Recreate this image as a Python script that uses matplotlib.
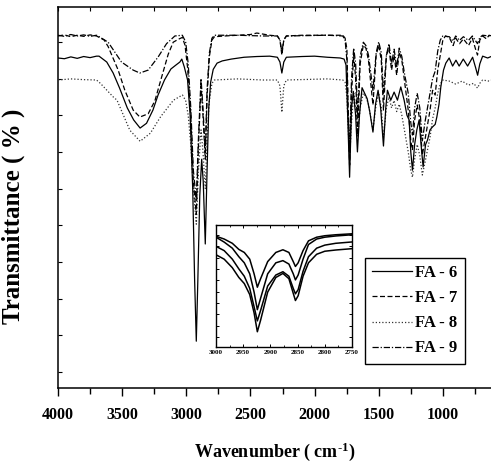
import matplotlib
matplotlib.use('Agg')
import matplotlib.pyplot as plt
import numpy as np
from matplotlib.ticker import MultipleLocator, FixedLocator, NullFormatter

plt.rcParams['font.family'] = ['Liberation Serif', 'DejaVu Serif']
plt.rcParams['font.weight'] = 'bold'
plt.rcParams['mathtext.fontset'] = 'custom'
plt.rcParams['mathtext.rm'] = 'Liberation Serif:bold'
plt.rcParams['mathtext.bf'] = 'Liberation Serif:bold'
plt.rcParams['mathtext.default'] = 'bf'

# ---------------- data (wavenumber cm-1, transmittance) ----------------
fa6 = [(4000,85.6),(3950,85.4),(3900,85.9),(3850,85.5),(3800,86.0),(3750,85.7),(3700,86.1),(3680,86.1),
       (3620,84.5),(3570,81.5),(3520,77.4),(3460,72.0),(3410,68.7),(3360,66.5),(3310,67.8),(3260,71.4),
       (3220,75.5),(3170,79.6),(3120,82.6),(3080,83.7),(3050,84.5),(3035,85.3),(3015,83.1),(2990,79.6),
       (2970,70.0),(2950,50.0),(2935,25.0),(2922,8.4),(2910,25.0),(2895,48.0),(2880,58.0),(2868,52.0),
       (2852,34.9),(2838,55.0),(2825,72.0),(2810,79.0),(2790,82.5),(2760,84.2),(2720,84.8),(2650,85.3),
       (2550,85.8),(2450,86.0),(2350,86.1),(2290,85.8),(2270,84.5),(2255,81.5),(2240,84.5),(2220,85.8),
       (2100,86.0),(2000,86.1),(1900,85.8),(1800,85.6),(1770,85.3),(1755,83.7),(1742,70.0),(1727,53.1),
       (1712,72.0),(1698,76.5),(1680,70.0),(1666,60.0),(1650,70.0),(1630,77.5),(1610,76.0),(1590,74.5),
       (1570,71.0),(1545,65.4),(1525,73.0),(1505,76.8),(1485,72.0),(1463,61.6),(1445,72.0),(1432,76.8),
       (1406,74.1),(1380,76.3),(1354,74.1),(1328,77.7),(1302,74.1),(1280,70.0),(1263,68.7),(1250,60.0),
       (1237,55.0),(1220,62.0),(1203,66.0),(1185,68.7),(1170,62.0),(1154,55.9),(1135,62.0),(1120,63.2),
       (1100,66.0),(1081,66.8),(1060,67.5),(1047,69.5),(1030,73.0),(1016,77.7),(995,82.3),(977,84.2),
       (951,85.6),(924,83.4),(898,85.0),(873,83.4),(841,85.3),(807,83.4),(768,85.8),(745,83.0),
       (729,80.9),(712,84.0),(690,86.1),(651,85.6),(617,86.1)]

fa7 = [(4000,91.6),(3950,91.9),(3900,91.4),(3850,91.8),(3800,91.5),(3750,91.9),(3700,91.6),(3640,90.5),
       (3609,88.7),(3531,82.3),(3479,76.8),(3414,71.4),(3362,69.5),(3297,70.4),(3245,73.9),(3193,80.3),
       (3141,86.6),(3102,89.9),(3062,90.7),(3031,91.2),(3010,89.1),(2990,83.0),(2965,70.0),(2945,52.0),
       (2922,43.0),(2905,62.0),(2885,78.0),(2870,70.0),(2852,58.0),(2838,75.0),(2820,86.0),(2800,90.5),
       (2780,91.4),(2700,91.6),(2600,91.8),(2500,92.0),(2450,92.4),(2400,92.1),(2350,91.8),(2290,91.6),
       (2270,90.5),(2255,86.4),(2240,90.5),(2220,91.6),(2100,91.8),(1900,91.8),(1780,91.8),(1762,91.0),
       (1748,88.0),(1740,75.0),(1727,56.4),(1712,76.0),(1695,86.4),(1680,80.1),(1664,64.6),(1645,84.0),
       (1620,89.1),(1600,88.3),(1580,85.0),(1545,72.8),(1520,86.4),(1500,89.1),(1480,85.0),(1463,71.4),
       (1440,86.4),(1420,88.3),(1400,82.3),(1380,86.4),(1360,80.9),(1340,87.2),(1320,85.0),(1300,79.6),
       (1270,71.4),(1250,63.0),(1237,60.5),(1220,68.7),(1200,72.8),(1180,68.7),(1160,59.1),(1140,63.2),
       (1100,71.4),(1080,76.8),(1060,75.5),(1040,82.3),(1020,86.4),(1000,90.5),(980,91.6),(950,91.2),
       (920,89.0),(900,91.0),(870,89.5),(840,90.8),(800,89.0),(770,91.0),(745,88.0),(730,86.4),
       (712,90.5),(690,91.6),(660,90.8),(640,91.8),(617,91.6)]

fa8 = [(4000,79.6),(3900,79.9),(3800,79.7),(3700,79.6),(3670,78.7),(3570,75.0),(3540,74.1),(3440,65.9),
       (3360,62.9),(3280,65.1),(3200,69.6),(3100,74.1),(3030,75.5),(3005,74.0),(2985,70.0),(2965,62.0),
       (2945,50.0),(2922,40.3),(2905,55.0),(2885,66.0),(2870,60.0),(2852,50.0),(2838,64.0),(2820,74.0),
       (2800,78.7),(2780,79.6),(2600,79.9),(2400,79.6),(2290,79.6),(2270,78.0),(2255,70.8),(2240,78.0),
       (2220,79.6),(1900,79.9),(1780,79.6),(1762,79.0),(1748,75.0),(1740,68.0),(1727,58.0),(1712,68.0),
       (1695,76.0),(1680,72.0),(1664,64.0),(1645,72.0),(1620,76.0),(1600,75.0),(1580,73.0),(1545,66.0),
       (1520,73.0),(1500,76.0),(1480,72.0),(1463,64.0),(1440,72.0),(1420,75.0),(1400,72.0),(1380,74.0),
       (1360,71.0),(1340,73.0),(1320,70.0),(1300,66.0),(1270,60.0),(1250,55.0),(1237,53.1),(1220,58.0),
       (1200,62.0),(1180,59.0),(1160,53.7),(1140,57.0),(1100,64.0),(1080,69.0),(1060,72.0),(1040,76.0),
       (1020,78.5),(1000,79.6),(950,79.3),(900,78.5),(850,79.3),(800,78.2),(760,78.7),(730,77.4),
       (712,78.7),(690,79.6),(640,79.3),(617,79.6)]

fa9 = [(4000,91.8),(3950,91.5),(3900,92.0),(3850,91.6),(3800,91.9),(3750,91.5),(3700,91.8),(3688,91.6),
       (3609,89.9),(3505,84.5),(3414,82.3),(3362,81.5),(3297,82.3),(3219,85.9),(3154,89.5),(3089,91.6),
       (3031,91.8),(3005,90.0),(2985,84.0),(2965,72.0),(2945,55.0),(2922,46.9),(2905,64.0),(2885,80.0),
       (2870,72.0),(2852,59.9),(2838,77.0),(2820,87.0),(2800,91.0),(2780,91.8),(2600,91.8),(2400,91.6),
       (2290,91.6),(2270,90.5),(2255,87.2),(2240,90.5),(2220,91.6),(1900,91.8),(1780,91.6),(1762,90.5),
       (1748,85.0),(1740,72.0),(1727,60.5),(1712,80.0),(1695,88.3),(1680,84.0),(1664,70.0),(1645,86.0),
       (1620,89.9),(1600,89.0),(1580,86.4),(1545,76.8),(1520,87.0),(1500,90.0),(1480,87.0),(1463,76.0),
       (1440,86.4),(1420,89.5),(1400,84.0),(1380,88.0),(1360,83.0),(1340,88.3),(1320,86.0),(1300,81.5),
       (1270,76.0),(1250,68.0),(1237,64.6),(1220,72.0),(1200,76.0),(1180,72.0),(1160,63.0),(1140,68.0),
       (1100,76.0),(1080,80.0),(1060,82.0),(1040,87.5),(1020,90.5),(1000,91.6),(950,91.4),(920,90.2),
       (900,91.6),(870,90.4),(840,91.4),(800,90.4),(770,91.6),(730,89.5),(712,91.2),(690,91.8),
       (640,91.6),(617,91.8)]

series_labels = ['FA - 6', 'FA - 7', 'FA - 8', 'FA - 9']

# inset (C-H stretching region, 3000-2750 cm-1)
inset_wn = [3000, 2985, 2970, 2958, 2948, 2938, 2930, 2924, 2918, 2905, 2890, 2877, 2866, 2858,
            2854, 2849, 2840, 2830, 2815, 2800, 2780, 2750]
inset_a = [0.908, 0.885, 0.85, 0.80, 0.775, 0.72, 0.60, 0.49, 0.56, 0.70, 0.775, 0.797, 0.775, 0.70,
           0.66, 0.69, 0.79, 0.87, 0.90, 0.912, 0.92, 0.928]
inset_b = [0.90, 0.86, 0.81, 0.74, 0.69, 0.60, 0.45, 0.306, 0.40, 0.60, 0.69, 0.708, 0.68, 0.60,
           0.55, 0.59, 0.72, 0.84, 0.885, 0.90, 0.91, 0.92]
inset_c = [0.825, 0.79, 0.72, 0.64, 0.58, 0.48, 0.33, 0.214, 0.30, 0.50, 0.59, 0.617, 0.58, 0.48,
           0.436, 0.47, 0.62, 0.74, 0.81, 0.835, 0.85, 0.861]
inset_d = [0.756, 0.72, 0.65, 0.57, 0.52, 0.43, 0.28, 0.125, 0.22, 0.45, 0.57, 0.603, 0.56, 0.44,
           0.381, 0.42, 0.58, 0.69, 0.76, 0.785, 0.795, 0.806]
inset_xticks = [3000, 2950, 2900, 2850, 2800, 2750]

# ---------------- figure ----------------
W, H = 491, 463
fig = plt.figure(figsize=(W / 100, H / 100), dpi=100)
ax = fig.add_axes([58 / W, 1 - 388 / H, 434 / W, 381 / H])

styles = [dict(ls='-', lw=0.9, color='black', zorder=5),
          dict(ls=(0, (4, 2)), lw=0.9, color='black', zorder=4),
          dict(ls=(0, (1, 1.6)), lw=0.9, color='#333333', zorder=3),
          dict(ls=(0, (5, 1.5, 1, 1.5)), lw=0.9, color='black', zorder=3.5)]
for data, lab, st in zip([fa6, fa7, fa8, fa9], series_labels, styles):
    x = [p[0] for p in data]
    y = [p[1] for p in data]
    ax.plot(x, y, label=lab, **st)

ax.set_xlim(4000, 617)
ax.set_ylim(-4.36, 99.5)
ax.xaxis.set_major_locator(FixedLocator([4000, 3500, 3000, 2500, 2000, 1500, 1000]))
ax.xaxis.set_minor_locator(MultipleLocator(250))
ax.yaxis.set_major_locator(MultipleLocator(10))
ax.yaxis.set_major_formatter(NullFormatter())
ax.tick_params(axis='x', which='major', direction='out', length=6, width=1.0, pad=8,
               labelsize=11.5, top=False)
ax.tick_params(axis='x', which='minor', direction='out', length=4, width=1.0, top=False)
ax.tick_params(axis='y', which='major', direction='in', length=3, width=0.8, right=False)
for s in ax.spines.values():
    s.set_linewidth(1.1)
ax.spines['right'].set_visible(False)
for lbl in ax.get_xticklabels():
    lbl.set_fontweight('bold')

# top-axis inward ticks
axt = ax.twiny()
axt.set_xlim(ax.get_xlim())
axt.xaxis.set_major_locator(MultipleLocator(250))
axt.xaxis.set_major_formatter(NullFormatter())
axt.tick_params(axis='x', direction='in', length=3, width=0.8)
for s in axt.spines.values():
    s.set_visible(False)

ax.set_xlabel(r'Wavenumber ( cm$^{\text{-1}}$)', fontsize=13, fontweight='bold', labelpad=12)
ax.set_ylabel('Transmittance ( % )', fontsize=18, fontweight='bold')
ax.yaxis.set_label_coords(-0.076, 0.45)

leg = ax.legend(loc='upper left', bbox_to_anchor=(365 / W, 1 - 258 / H),
                bbox_transform=fig.transFigure, borderaxespad=0, fancybox=False,
                edgecolor='black', framealpha=1, handlelength=2.4,
                handletextpad=0.2, labelspacing=0.55, borderpad=0.42,
                prop={'weight': 'bold', 'size': 12})
leg.get_frame().set_linewidth(1.0)
leg.set_zorder(10)

# inset
axi = fig.add_axes([216 / W, 1 - 347 / H, 136 / W, 122 / H])
for yv in [inset_a, inset_b, inset_c, inset_d]:
    axi.plot(inset_wn, yv, color='black', lw=1.1)
axi.set_xlim(3000, 2750)
axi.set_ylim(0, 1)
axi.xaxis.set_major_locator(FixedLocator(inset_xticks))
axi.xaxis.set_minor_locator(MultipleLocator(25))
axi.yaxis.set_major_locator(FixedLocator(list(np.linspace(0.083, 0.917, 10))))
axi.yaxis.set_major_formatter(NullFormatter())
axi.tick_params(axis='both', which='both', direction='in', labelsize=5, pad=2,
                top=True, right=True)
axi.tick_params(axis='both', which='major', length=2.5, width=0.7)
axi.tick_params(axis='both', which='minor', length=1.5, width=0.6)
for s in axi.spines.values():
    s.set_linewidth(1.0)

fig.savefig('out.png', dpi=100)
